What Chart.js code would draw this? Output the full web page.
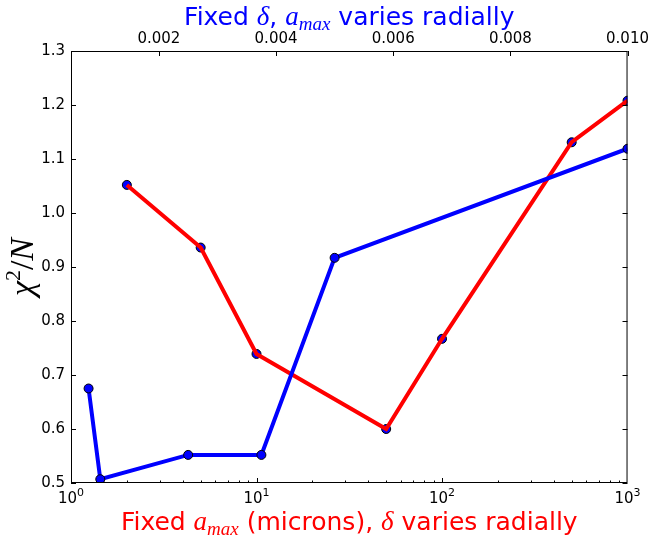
<!DOCTYPE html>
<html>
<head>
<meta charset="utf-8">
<script src="https://cdn.jsdelivr.net/npm/chart.js@4.4.1/dist/chart.umd.min.js"></script>
<style>
  body { margin: 0; background: #fff; }
</style>
</head>
<body>
<canvas id="chart" width="652" height="540"></canvas>
<script>
// red: fixed a_max (bottom log axis)
var redX = [2, 5, 10, 50, 100, 500, 1000];
var redY = [1.052, 0.936, 0.739, 0.600, 0.767, 1.131, 1.208];
// blue: fixed delta (top linear axis)
var blueX = [0.0008, 0.001, 0.0025, 0.00375, 0.005, 0.01];
var blueY = [0.675, 0.507, 0.552, 0.552, 0.917, 1.119];

var yTicks = [0.5, 0.6, 0.7, 0.8, 0.9, 1.0, 1.1, 1.2, 1.3];
var topTicks = [0.002, 0.004, 0.006, 0.008, 0.010];
var bottomTicks = [1, 10, 100, 1000];

var BLUE = '#0000ff', RED = '#ff0000';
var SANS = '"DejaVu Sans"';
var MATH = '"Liberation Serif"';

function pts(xs, ys) {
  return xs.map(function (x, i) { return { x: x, y: ys[i] }; });
}

function setTicks(values) {
  return function (scale) {
    scale.ticks = values.map(function (v) { return { value: v }; });
  };
}

// draw a run of text pieces with different fonts, centred on x
function drawRich(ctx, parts, x, y, color) {
  var w = 0;
  parts.forEach(function (p) { ctx.font = p.font; w += ctx.measureText(p.t).width; });
  var cx = x - w / 2;
  ctx.fillStyle = color;
  ctx.textAlign = 'left';
  ctx.textBaseline = 'alphabetic';
  parts.forEach(function (p) {
    ctx.font = p.font;
    ctx.fillText(p.t, cx, y + (p.dy || 0));
    cx += ctx.measureText(p.t).width;
  });
}

var frame = {
  id: 'frame',
  afterDatasetsDraw: function (chart) {
    var ctx = chart.ctx, a = chart.chartArea;
    var sx = chart.scales.x, sx2 = chart.scales.x2, sy = chart.scales.y;
    ctx.save();
    ctx.strokeStyle = '#000';
    ctx.lineWidth = 1;
    ctx.strokeRect(a.left + 0.5, a.top + 0.5, a.right - a.left - 1, a.bottom - a.top - 1);
    ctx.beginPath();
    // y ticks, both sides, pointing in
    yTicks.forEach(function (v) {
      var p = Math.round(sy.getPixelForValue(v)) + 0.5;
      ctx.moveTo(a.left, p); ctx.lineTo(a.left + 5, p);
      ctx.moveTo(a.right, p); ctx.lineTo(a.right - 5, p);
    });
    // top ticks
    topTicks.forEach(function (v) {
      var p = Math.round(sx2.getPixelForValue(v)) + 0.5;
      ctx.moveTo(p, a.top); ctx.lineTo(p, a.top + 5);
    });
    // bottom log ticks, major and minor
    for (var e = 0; e <= 2; e++) {
      for (var m = 1; m <= 9; m++) {
        var v = m * Math.pow(10, e);
        var p = Math.round(sx.getPixelForValue(v)) + 0.5;
        var len = m === 1 ? 5 : 2.5;
        ctx.moveTo(p, a.bottom); ctx.lineTo(p, a.bottom - len);
      }
    }
    ctx.stroke();
    ctx.restore();
  },
  afterDraw: function (chart) {
    var ctx = chart.ctx, a = chart.chartArea;
    var sx = chart.scales.x;
    var cx = (a.left + a.right) / 2;
    ctx.save();
    // bottom tick labels 10^n
    bottomTicks.forEach(function (v) {
      drawRich(ctx, [
        { t: '10', font: '15px ' + SANS },
        { t: String(Math.round(Math.log10(v))), font: '11px ' + SANS, dy: -7 }
      ], sx.getPixelForValue(v), a.bottom + 20, '#000');
    });
    drawRich(ctx, [
      { t: 'Fixed ', font: '25px ' + SANS },
      { t: '\u03b4', font: 'italic 27px ' + MATH },
      { t: ', ', font: '25px ' + SANS },
      { t: 'a', font: 'italic 27px ' + MATH },
      { t: 'max', font: 'italic 19px ' + MATH, dy: 5 },
      { t: ' varies radially', font: '25px ' + SANS }
    ], cx, 25, BLUE);
    drawRich(ctx, [
      { t: 'Fixed ', font: '25px ' + SANS },
      { t: 'a', font: 'italic 27px ' + MATH },
      { t: 'max', font: 'italic 19px ' + MATH, dy: 5 },
      { t: ' (microns), ', font: '25px ' + SANS },
      { t: '\u03b4', font: 'italic 27px ' + MATH },
      { t: ' varies radially', font: '25px ' + SANS }
    ], cx, 530, RED);
    ctx.translate(33, (a.top + a.bottom) / 2);
    ctx.rotate(-Math.PI / 2);
    drawRich(ctx, [
      { t: '\u03c7', font: 'italic 34px ' + MATH },
      { t: '2', font: '22px ' + MATH, dy: -13 },
      { t: '/', font: '34px ' + MATH },
      { t: 'N', font: 'italic 34px ' + MATH }
    ], 0, 0, '#000');
    ctx.restore();
  }
};

var tickFont = { family: SANS, size: 15 };

new Chart(document.getElementById('chart'), {
  type: 'scatter',
  data: {
    datasets: [
      {
        data: pts(blueX, blueY), xAxisID: 'x2', order: 0,
        showLine: true, borderColor: BLUE, borderWidth: 4,
        pointRadius: 4.5, pointBackgroundColor: BLUE,
        pointBorderColor: '#000', pointBorderWidth: 1
      },
      {
        data: pts(redX, redY), xAxisID: 'x', order: 1,
        showLine: true, borderColor: RED, borderWidth: 4, pointRadius: 0
      },
      {
        data: pts(redX, redY), xAxisID: 'x', order: 2,
        showLine: false, pointRadius: 4.5, pointBackgroundColor: BLUE,
        pointBorderColor: '#000', pointBorderWidth: 1
      }
    ]
  },
  options: {
    responsive: false,
    devicePixelRatio: 1,
    animation: false,
    layout: { padding: { right: 24 } },
    plugins: { legend: { display: false }, tooltip: { enabled: false } },
    scales: {
      x: {
        type: 'logarithmic', position: 'bottom', min: 1, max: 1000,
        grid: { display: false, drawTicks: false }, border: { display: false },
        afterBuildTicks: setTicks(bottomTicks),
        afterFit: function (s) { s.height = 57; },
        ticks: { display: false }
      },
      x2: {
        type: 'linear', position: 'top', min: 0.0005, max: 0.01,
        grid: { display: false, drawTicks: false }, border: { display: false },
        afterBuildTicks: setTicks(topTicks),
        afterFit: function (s) { s.height = 51; },
        ticks: {
          autoSkip: false, maxRotation: 0, padding: 3, color: '#000', font: tickFont,
          callback: function (v) { return v.toFixed(3); }
        }
      },
      y: {
        type: 'linear', position: 'left', min: 0.5, max: 1.3,
        grid: { display: false, drawTicks: false }, border: { display: false },
        afterBuildTicks: setTicks(yTicks),
        afterFit: function (s) { s.width = 71; },
        ticks: {
          padding: 6, color: '#000', font: tickFont,
          callback: function (v) { return v.toFixed(1); }
        }
      }
    }
  },
  plugins: [frame]
});
</script>
</body>
</html>
